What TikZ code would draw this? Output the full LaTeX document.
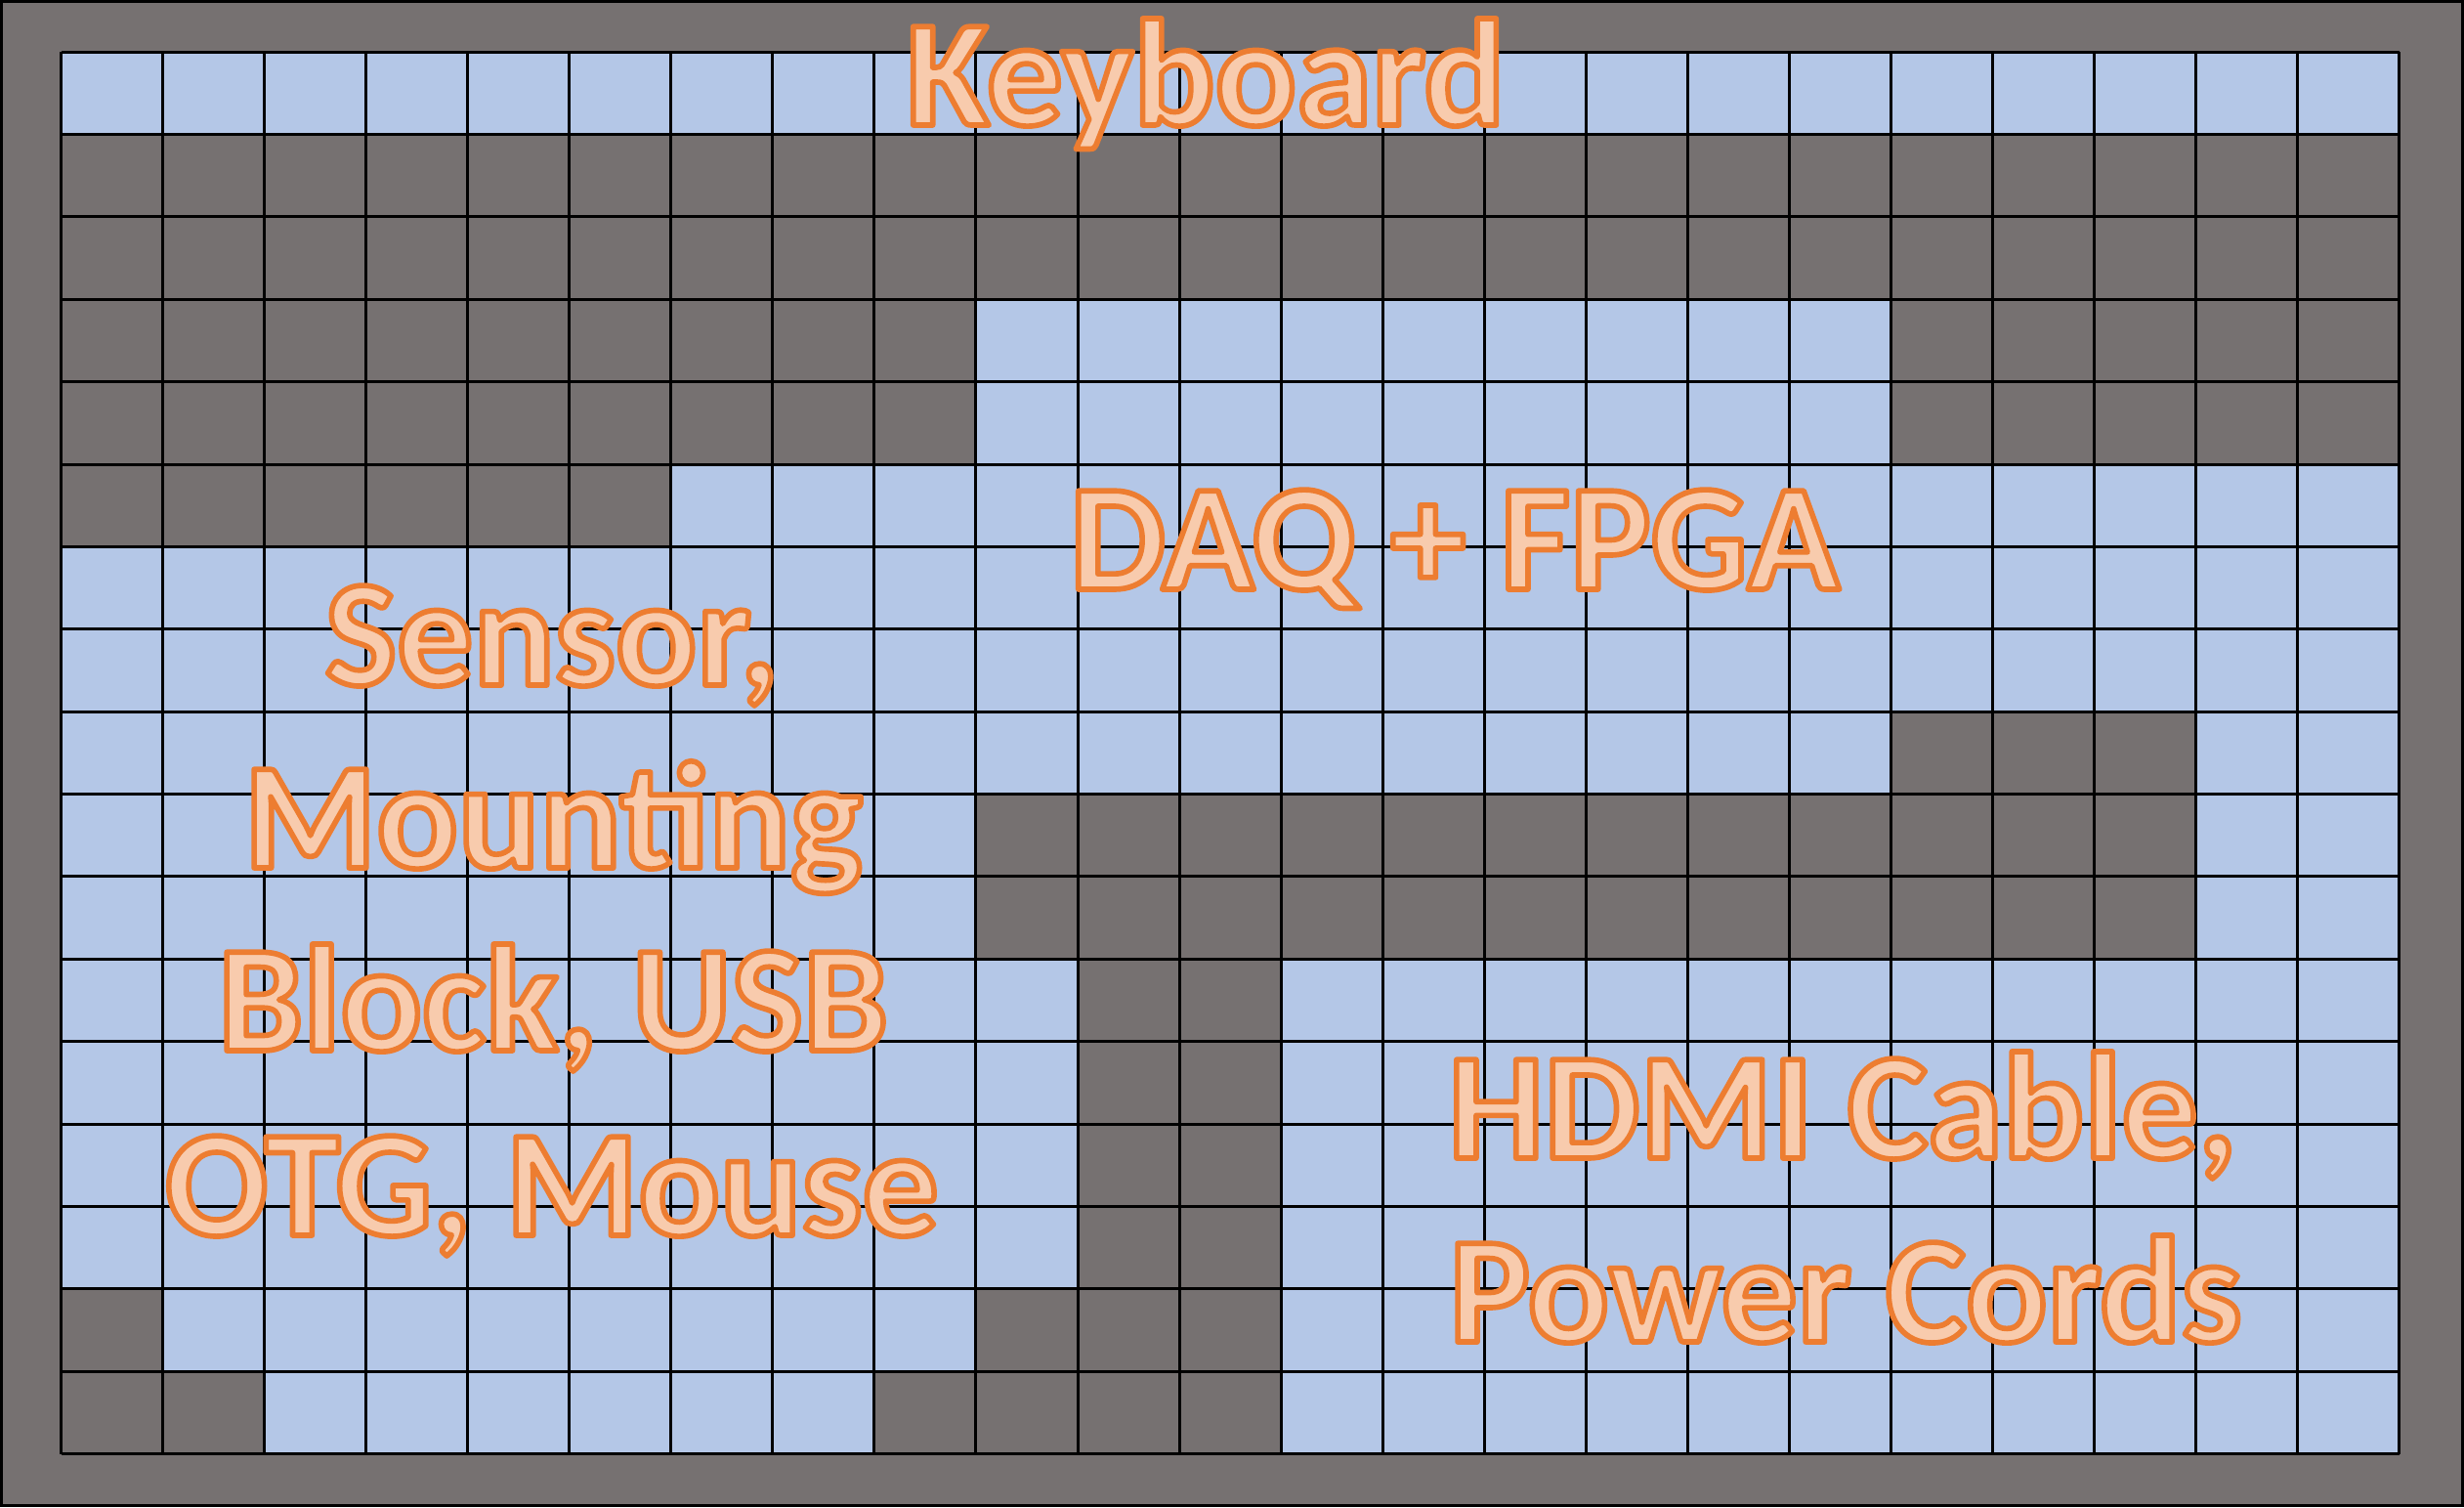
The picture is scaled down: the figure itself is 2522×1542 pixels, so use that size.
\documentclass[tikz,border=0pt]{standalone}
\usepackage{fontspec}
\setmainfont{Carlito}
\usepackage{xcolor}
\definecolor{frame}{HTML}{767171}
\definecolor{lightc}{HTML}{B4C7E7}
\definecolor{txtfill}{HTML}{F8CBAD}
\newcommand\gx[1]{62.6+#1*104.04}
\newcommand\gy[1]{53.1+#1*84.38}
\newcommand\outlined[1]{{\color{txtfill}\special{pdf:literal direct 0.929 0.490 0.192 RG 1.6 w 1 j 2 Tr}#1\special{pdf:literal direct 0 Tr}}}
\newcommand\darkcells[4]{\fill[frame] ({\gx{#1}},{\gy{#3}}) rectangle ({\gx{(#2+1)}},{\gy{(#4+1)}});}
\tikzset{
  gridline/.style={black, line width=0.03cm},
  label/.style={anchor=base, inner sep=0pt, font=\fontsize{44.2}{54}\selectfont\bfseries}
}
\begin{document}
\begin{tikzpicture}[x=0.01cm, y=-0.01cm]
\useasboundingbox (0,0) rectangle (2522,1542);
% outer frame
\fill[frame, draw=black, line width=0.03cm] (1.5,1.5) rectangle (2520.5,1540.5);
% light grid area
\fill[lightc] ({\gx{0}},{\gy{0}}) rectangle ({\gx{23}},{\gy{17}});
% dark cells
\darkcells{0}{22}{1}{2}
\darkcells{0}{8}{3}{4}
\darkcells{18}{22}{3}{4}
\darkcells{0}{5}{5}{5}
\darkcells{18}{20}{8}{8}
\darkcells{9}{20}{9}{10}
\darkcells{10}{11}{11}{14}
\darkcells{0}{0}{15}{15}
\darkcells{9}{11}{15}{15}
\darkcells{0}{1}{16}{16}
\darkcells{8}{11}{16}{16}
% grid lines
\foreach \i in {0,...,23} \draw[gridline] ({\gx{\i}},{\gy{0}}) -- ({\gx{\i}},{\gy{17}});
\foreach \j in {0,...,17} \draw[gridline] ({\gx{0}},{\gy{\j}}) -- ({\gx{23}},{\gy{\j}});
% labels
\node[label] (kb) at (1234,128) {\outlined{Keyboard}};
\node[label] (daq) at (1489,603) {\outlined{DAQ + FPGA}};
\node[label] (s1) at (565,701) {\outlined{Sensor,}};
\node[label] (s2) at (566,888) {\outlined{Mounting}};
\node[label] (s3) at (566,1075) {\outlined{Block, USB}};
\node[label] (s4) at (565,1264) {\outlined{OTG, Mouse}};
\node[label] (h1) at (1886,1185) {\outlined{HDMI Cable,}};
\node[label] (h2) at (1889,1373) {\outlined{Power Cords}};
\end{tikzpicture}
\end{document}
